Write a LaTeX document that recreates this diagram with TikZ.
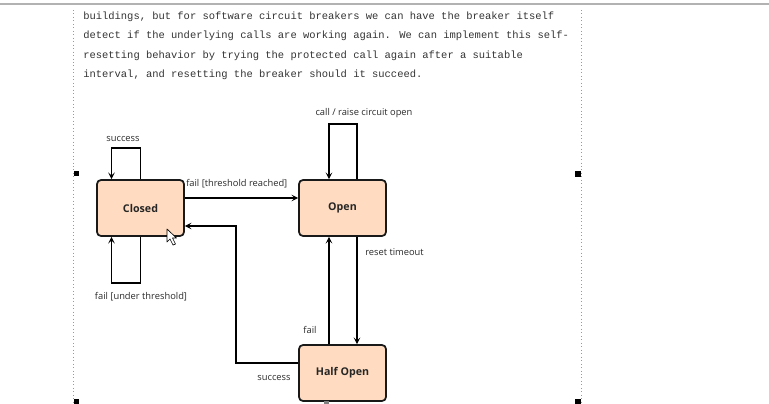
\documentclass[tikz,border=0pt]{standalone}
\usepackage{fontspec}
\setmainfont{Open Sans}
\newfontfamily\pagemono{Liberation Mono}
\usetikzlibrary{arrows.meta}

\definecolor{statefill}{HTML}{FFDCC1}
\definecolor{pagetext}{HTML}{333333}
\definecolor{labeltext}{HTML}{2A2A2A}

\tikzset{
  state/.style={draw=black!90,line width=1.3pt,fill=statefill,rounded corners=3pt,
    minimum width=65.25pt,minimum height=42pt,inner sep=0pt,
    font=\fontsize{8}{10}\selectfont\bfseries,text=black!85},
  trans/.style={line width=1pt,-{Stealth[length=5pt,width=5pt,inset=2.2pt]}},
  tlabel/.style={font=\fontsize{7}{8.5}\selectfont,text=labeltext,inner sep=0pt},
  pageline/.style={anchor=west,inner sep=0pt,text=pagetext,text height=1.6ex,text depth=.4ex,
    font=\pagemono\fontsize{7.85}{9}\selectfont},
  handle/.style={fill=black,draw=none}
}

\begin{document}
\begin{tikzpicture}[x=0.75pt,y=-0.75pt]
  \useasboundingbox (0,0) rectangle (769,404);

  % page frame around the quoted text
  \draw[gray!60,line width=.8pt] (0,4) -- (769,4);
  \draw[gray!80,dotted,line width=.6pt] (73.5,10) -- (73.5,404);
  \draw[gray!80,dotted,line width=.6pt] (581,10) -- (581,404);

  \node[pageline] (line1) at (83,15) {buildings, but for software circuit breakers we can have the breaker itself};
  \node[pageline] (line2) at (83,34.5) {detect if the underlying calls are working again. We can implement this self-};
  \node[pageline] (line3) at (83,54) {resetting behavior by trying the protected call again after a suitable};
  \node[pageline] (line4) at (83,73.5) {interval, and resetting the breaker should it succeed.};

  % states
  \node[state] (closed) at (140.5,208) {Closed};
  \node[state] (open) at (342.5,208) {Open};
  \node[state] (halfopen) at (342.5,373) {Half Open};

  % transitions
  \draw[trans] (closed.north) -- ++(0,-31) -| ([xshift=-21.75pt]closed.north);
  \node[tlabel] (lsuccess) at (123,139) {success};

  \draw[trans] (closed.south) -- ++(0,46) -| ([xshift=-21.75pt]closed.south);
  \node[tlabel] (lunder) at (141,297) {fail [under threshold]};

  \draw[trans] ([yshift=7.5pt]closed.east) -- ([yshift=7.5pt]open.west);
  \node[tlabel,anchor=west] (lreached) at (186,183.5) {fail [threshold reached]};

  \draw[trans] ([xshift=10.9pt]open.north) -- ++(0,-55) -| ([xshift=-10.1pt]open.north);
  \node[tlabel] (lraise) at (364,113) {call / raise circuit open};

  \draw[trans] ([xshift=10.9pt]open.south) -- ([xshift=10.9pt]halfopen.north);
  \node[tlabel,anchor=west] (ltimeout) at (365,252) {reset timeout};

  \draw[trans] ([xshift=-10.1pt]halfopen.north) -- ([xshift=-10.1pt]open.south);
  \node[tlabel] (lfail) at (310,330) {fail};

  \draw[trans] ([yshift=7.5pt]halfopen.west) -- ++(-62,0) |- ([yshift=-13.5pt]closed.east);
  \node[tlabel] (lback) at (274,378) {success};

  % mouse pointer and selection handles from the screenshot
  \draw[black,fill=white,line width=.5pt,line join=round]
    (167,229) -- (167,242) -- (170,239) -- (173,245) -- (175.5,244) -- (172.5,238) -- (176.5,238) -- cycle;
  \fill[handle] (73.5,171) rectangle ++(5,5);
  \fill[handle] (575,171) rectangle ++(6,6);
  \fill[handle] (73.5,399) rectangle ++(5,5);
  \fill[handle] (575,399) rectangle ++(6,5);
  \fill[gray] (323.5,401) rectangle ++(5,3);
\end{tikzpicture}
\end{document}
